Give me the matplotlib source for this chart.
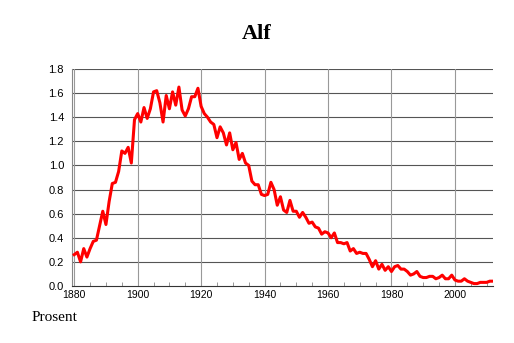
import matplotlib
matplotlib.use("Agg")
import matplotlib.pyplot as plt
import numpy as np

# Alf, prosent av fødte per år
years = list(range(1880, 2013))
values = [
    0.26, 0.28, 0.20, 0.31, 0.24, 0.31, 0.37, 0.38, 0.50, 0.62,  # 1880-1889
    0.51, 0.70, 0.85, 0.86, 0.95, 1.12, 1.10, 1.15, 1.02, 1.38,  # 1890-1899
    1.43, 1.36, 1.48, 1.39, 1.47, 1.61, 1.62, 1.52, 1.36, 1.58,  # 1900-1909
    1.47, 1.61, 1.50, 1.65, 1.46, 1.41, 1.47, 1.57, 1.57, 1.64,  # 1910-1919
    1.49, 1.43, 1.40, 1.36, 1.34, 1.23, 1.32, 1.27, 1.17, 1.27,  # 1920-1929
    1.13, 1.19, 1.05, 1.10, 1.02, 1.00, 0.87, 0.84, 0.84, 0.76,  # 1930-1939
    0.75, 0.76, 0.86, 0.80, 0.67, 0.74, 0.63, 0.61, 0.71, 0.62,  # 1940-1949
    0.62, 0.57, 0.61, 0.57, 0.52, 0.53, 0.49, 0.48, 0.43, 0.45,  # 1950-1959
    0.44, 0.40, 0.44, 0.36, 0.36, 0.35, 0.36, 0.29, 0.31, 0.27,  # 1960-1969
    0.28, 0.27, 0.27, 0.22, 0.16, 0.21, 0.14, 0.18, 0.13, 0.16,  # 1970-1979
    0.12, 0.16, 0.17, 0.14, 0.14, 0.12, 0.09, 0.10, 0.12, 0.08,  # 1980-1989
    0.07, 0.07, 0.08, 0.08, 0.06, 0.07, 0.09, 0.06, 0.06, 0.09,  # 1990-1999
    0.05, 0.04, 0.04, 0.06, 0.04, 0.03, 0.02, 0.02, 0.03, 0.03,  # 2000-2009
    0.03, 0.04, 0.04,                                            # 2010-2012
]
x_ticks = [1880, 1900, 1920, 1940, 1960, 1980, 2000]
y_ticks = np.arange(0, 1.81, 0.2)

fig = plt.figure(figsize=(5.14, 3.43), dpi=100)
ax = fig.add_axes([0.1407, 0.1662, 0.8184, 0.6327])

for y in y_ticks[1:]:
    ax.axhline(y, color="#555555", lw=0.8, zorder=1)
for x in x_ticks:
    ax.axvline(x, color="#999999", lw=0.8, zorder=1)

ax.plot(years, values, color="#ff0000", lw=2.2, zorder=3)

ax.set_xlim(1879.4, 2012)
ax.set_ylim(0, 1.8)
ax.set_xticks(x_ticks)
ax.set_xticks(range(1885, 2012, 5), minor=True)
ax.set_yticks(y_ticks)
ax.set_yticklabels(["%.1f" % v for v in y_ticks], fontfamily="Liberation Sans", fontsize=8)
ax.set_xticklabels([str(v) for v in x_ticks], fontfamily="Liberation Sans", fontsize=7.5)
ax.tick_params(axis="y", length=0, pad=6)
ax.tick_params(axis="x", which="major", length=0, pad=3)
ax.tick_params(axis="x", which="minor", direction="in", length=3, color="#888888")

for s in ["top", "right"]:
    ax.spines[s].set_visible(False)
ax.spines["left"].set_color("#888888")
ax.spines["left"].set_linewidth(0.8)
ax.spines["bottom"].set_color("#333333")
ax.spines["bottom"].set_linewidth(0.8)

fig.text(0.5, 0.9, "Alf", ha="center", va="center", fontfamily="Liberation Serif",
         fontweight="bold", fontsize=16)
fig.text(0.062, 0.074, "Prosent", ha="left", va="center", fontfamily="Liberation Serif",
         fontsize=11)

fig.savefig("out.png", dpi=100)
